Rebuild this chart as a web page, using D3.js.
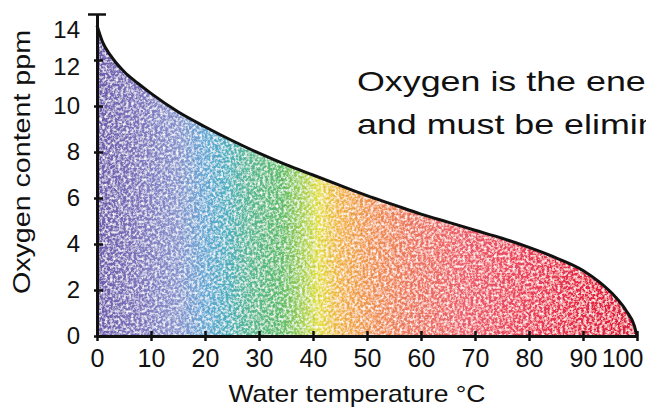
<!DOCTYPE html>
<html>
<head>
<meta charset="utf-8">
<script src="https://cdn.jsdelivr.net/npm/d3@7"></script>
<style>
  body { margin: 0; background: #fff; }
  text { font-family: "Liberation Sans", Arial, sans-serif; fill: #111; }
</style>
</head>
<body>
<div id="chart"></div>
<script>
// data
var temps = [0, 1, 2.5, 5, 7.5, 10, 15, 20, 25, 30, 35, 40, 45, 50, 55, 60, 65, 70, 75, 80, 85, 90, 93, 96, 98, 99.5, 100];
var oxygen = [13.5, 12.8, 12.2, 11.5, 11.0, 10.55, 9.75, 9.1, 8.5, 7.95, 7.45, 7.0, 6.55, 6.1, 5.7, 5.3, 4.95, 4.6, 4.25, 3.85, 3.4, 2.85, 2.35, 1.7, 1.1, 0.45, 0];
var xTicks = [0, 10, 20, 30, 40, 50, 60, 70, 80, 90, 100];
var yTicks = [0, 2, 4, 6, 8, 10, 12, 14];
var gradOffsets = [0, 8, 15, 20, 24, 28, 34, 38, 41, 45, 50, 58, 68, 80, 92, 100];
var gradColors = ["#6e5cae", "#7f78c0", "#8a98d0", "#66acd8", "#4cb4c4", "#58bc98", "#5cc068", "#a8d450",
  "#e6e23c", "#f4b840", "#f39a4c", "#f07a5c", "#f0606a", "#ee4058", "#e8203e", "#e0183a"];

var width = 646, height = 408;
var x = d3.scaleLinear().domain([0, 100]).range([97, 637]);
var y = d3.scaleLinear().domain([0, 14]).range([336, 14]);

var svg = d3.select("#chart").append("svg")
  .attr("width", width)
  .attr("height", height);

var defs = svg.append("defs");

// rainbow fill across the temperature range
var grad = defs.append("linearGradient")
  .attr("id", "rainbow")
  .attr("gradientUnits", "userSpaceOnUse")
  .attr("x1", x(0)).attr("x2", x(100))
  .attr("y1", 0).attr("y2", 0);
gradOffsets.forEach(function(o, i) {
  grad.append("stop")
    .attr("offset", o + "%")
    .attr("stop-color", gradColors[i]);
});

// grainy crayon look
var filt = defs.append("filter").attr("id", "speckle")
  .attr("x", "0%").attr("y", "0%").attr("width", "100%").attr("height", "100%");
filt.append("feTurbulence")
  .attr("type", "fractalNoise").attr("baseFrequency", 0.38)
  .attr("numOctaves", 3).attr("seed", 4).attr("result", "noise");
filt.append("feColorMatrix").attr("in", "noise").attr("type", "matrix")
  .attr("values", "0 0 0 0 1  0 0 0 0 1  0 0 0 0 1  2.4 0 0 0 -1.0")
  .attr("result", "white");
filt.append("feComposite").attr("in", "white").attr("in2", "SourceGraphic")
  .attr("operator", "in").attr("result", "w");
filt.append("feColorMatrix").attr("in", "noise").attr("type", "matrix")
  .attr("values", "0 0 0 0 0.2  0 0 0 0 0.1  0 0 0 0 0.3  -1.6 0 0 0 0.6")
  .attr("result", "dark");
filt.append("feComposite").attr("in", "dark").attr("in2", "SourceGraphic")
  .attr("operator", "in").attr("result", "d");
var merge = filt.append("feMerge");
merge.append("feMergeNode").attr("in", "SourceGraphic");
merge.append("feMergeNode").attr("in", "d");
merge.append("feMergeNode").attr("in", "w");

var pts = temps.map(function(t, i) { return [t, oxygen[i]]; });

var area = d3.area()
  .x(function(d) { return x(d[0]); })
  .y0(y(0))
  .y1(function(d) { return y(d[1]); })
  .curve(d3.curveMonotoneX);

var line = d3.line()
  .x(function(d) { return x(d[0]); })
  .y(function(d) { return y(d[1]); })
  .curve(d3.curveMonotoneX);

svg.append("path")
  .datum(pts)
  .attr("d", area)
  .attr("fill", "url(#rainbow)")
  .attr("filter", "url(#speckle)");

svg.append("path")
  .datum(pts)
  .attr("d", line)
  .attr("fill", "none")
  .attr("stroke", "#111")
  .attr("stroke-width", 3);

// x axis
var xAxis = svg.append("g")
  .attr("transform", `translate(0, ${y(0)})`)
  .call(d3.axisBottom(x).tickValues(xTicks).tickSizeOuter(0));
xAxis.select(".domain").attr("stroke", "#111").attr("stroke-width", 3);
xAxis.selectAll(".tick line").attr("y1", -5).attr("y2", 5)
  .attr("stroke", "#111").attr("stroke-width", 2.5);
xAxis.selectAll(".tick text")
  .attr("y", 31).attr("dy", null)
  .attr("x", function(d) { return d == 100 ? -15 : 0; }) // last label pulled in from the edge
  .attr("font-size", "25px")
  .attr("font-family", null);

// y axis
var yAxis = svg.append("g")
  .attr("transform", `translate(${x(0)}, 0)`)
  .call(d3.axisLeft(y).tickValues(yTicks).tickSizeOuter(0));
yAxis.select(".domain").attr("stroke", "#111").attr("stroke-width", 3);
yAxis.selectAll(".tick line")
  .attr("x1", function(d) { return d == 14 ? -9 : -3; })
  .attr("x2", function(d) { return d == 14 ? 9 : 6; })
  .attr("stroke", "#111").attr("stroke-width", 2.5);
yAxis.selectAll(".tick text")
  .attr("x", -17)
  .attr("y", function(d) { return d == 14 ? 16 : (d == 12 ? 7 : 0); })
  .attr("font-size", "24px")
  .attr("font-family", null);
yAxis.selectAll("text").style("fill", "#111");
xAxis.selectAll("text").style("fill", "#111");

// axis titles
svg.append("text")
  .attr("x", 357).attr("y", 402)
  .attr("text-anchor", "middle")
  .attr("font-size", "24px")
  .attr("textLength", 257)
  .attr("lengthAdjust", "spacingAndGlyphs")
  .text("Water temperature °C");

svg.append("text")
  .attr("transform", "translate(30, 162) rotate(-90)")
  .attr("text-anchor", "middle")
  .attr("font-size", "24px")
  .attr("textLength", 264)
  .attr("lengthAdjust", "spacingAndGlyphs")
  .text("Oxygen content ppm");

// caption running off the right edge (wide lettering)
var caption = svg.append("g")
  .attr("transform", "translate(357, 0) scale(1.28, 1)");
caption.append("text")
  .attr("x", 0).attr("y", 91)
  .attr("font-size", "28px")
  .text("Oxygen is the enemy");
caption.append("text")
  .attr("x", 0).attr("y", 134)
  .attr("font-size", "28px")
  .text("and must be eliminated");
</script>
</body>
</html>
